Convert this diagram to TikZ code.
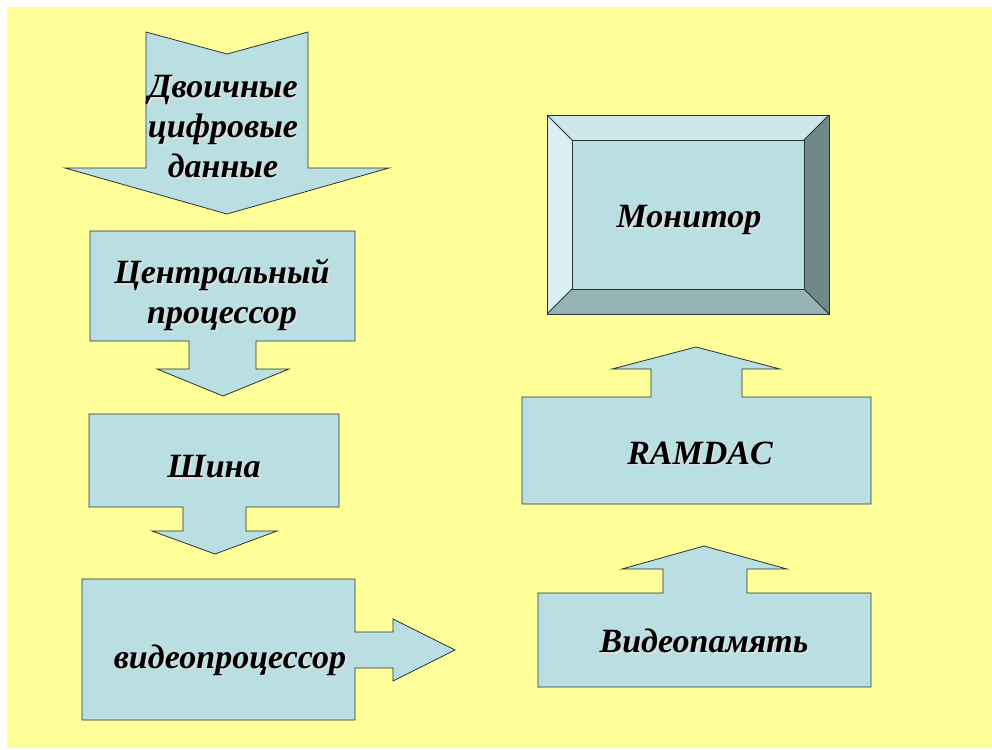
\documentclass[tikz,border=0pt]{standalone}
\usepackage{fontspec}
\setmainfont{Liberation Serif}
\definecolor{bgyellow}{HTML}{FFFF99}
\definecolor{boxblue}{HTML}{B9DFE2}
\definecolor{bevtop}{HTML}{CBE7EA}
\definecolor{bevleft}{HTML}{DAEFF1}
\definecolor{bevright}{HTML}{718889}
\definecolor{bevbot}{HTML}{97B3B5}
\definecolor{edge}{HTML}{2A3333}
\newcommand{\ShLabel}[3]{%
  \node[lbl, text=gray!25] at ($(#2)+(1.8,1.8)$) {#3};
  \node[lbl] (#1) at (#2) {#3};}
\usetikzlibrary{calc}
\begin{document}
\begin{tikzpicture}[x=1pt,y=-1pt,
  shp/.style={fill=boxblue, draw=edge, line width=0.8pt, line join=miter},
  bev/.style={draw=edge, line width=0.8pt},
  lbl/.style={font=\fontsize{34}{40}\selectfont\bfseries\itshape, align=center, text=black, inner sep=0pt}]
\useasboundingbox (0,0) rectangle (992,749);
\fill[white] (0,0) rectangle (992,749);
\fill[bgyellow] (7,7) rectangle (992,748);
% top arrow
\draw[shp] (146,32) -- (227,54) -- (308,32) -- (308,168) -- (389,168) -- (227,214) -- (65,168) -- (146,168) -- cycle;
\ShLabel{dvo}{223,127}{Двоичные\\цифровые\\данные}
% central processor
\draw[shp] (90,231) -- (355,231) -- (355,341) -- (256,341) -- (256,369) -- (289,369) -- (223,396) -- (157,369) -- (189,369) -- (189,341) -- (90,341) -- cycle;
\ShLabel{cpu}{222,295}{Центральный\\процессор}
% bus
\draw[shp] (89,414) -- (339,414) -- (339,507) -- (246,507) -- (246,531) -- (277,531) -- (215,554) -- (152,531) -- (183,531) -- (183,507) -- (89,507) -- cycle;
\ShLabel{bus}{214,467}{Шина}
% video processor
\draw[shp] (82,579) -- (355,579) -- (355,632) -- (393,632) -- (393,619) -- (455,650) -- (393,681) -- (393,668) -- (355,668) -- (355,720) -- (82,720) -- cycle;
\ShLabel{vproc}{230,660}{видеопроцессор}
% monitor
\fill[bevtop] (547,115) -- (829,115) -- (804,140) -- (572,140) -- cycle;
\fill[bevleft] (547,115) -- (572,140) -- (572,289) -- (547,314) -- cycle;
\fill[bevright] (829,115) -- (829,314) -- (804,289) -- (804,140) -- cycle;
\fill[bevbot] (547,314) -- (572,289) -- (804,289) -- (829,314) -- cycle;
\draw[shp] (572,140) rectangle (804,289);
\draw[bev] (547,115) rectangle (829,314);
\draw[bev] (547,115) -- (572,140) (829,115) -- (804,140) (547,314) -- (572,289) (829,314) -- (804,289);
\ShLabel{mon}{689,220}{Монитор}
% RAMDAC
\draw[shp] (522,397) -- (651,397) -- (651,369) -- (612,369) -- (696,347) -- (780,369) -- (742,369) -- (742,397) -- (871,397) -- (871,504) -- (522,504) -- cycle;
\ShLabel{ramdac}{700,453}{RAMDAC}
% video memory
\draw[shp] (538,593) -- (663,593) -- (663,569) -- (622,569) -- (704,546) -- (787,569) -- (747,569) -- (747,593) -- (871,593) -- (871,687) -- (538,687) -- cycle;
\ShLabel{vmem}{704,641}{Видеопамять}
\end{tikzpicture}
\end{document}
